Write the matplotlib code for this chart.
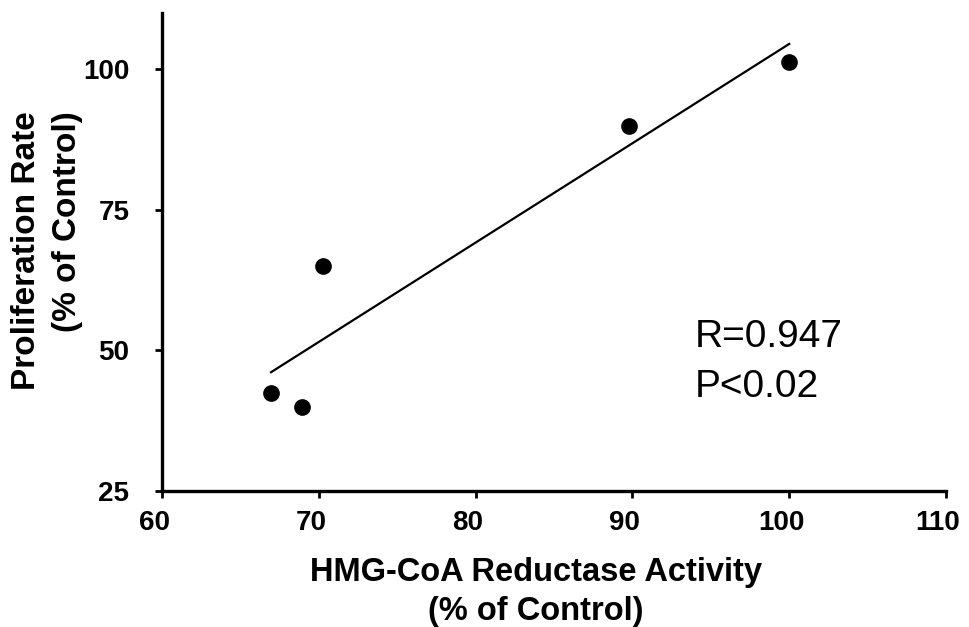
import numpy as np
import matplotlib.pyplot as plt
from matplotlib.transforms import ScaledTranslation

# values
hmg_activity = [66.95, 68.95, 70.25, 89.75, 100.0]
prolif_rate = [42.4, 39.9, 65.0, 89.9, 101.3]
x_ticks = [60, 70, 80, 90, 100, 110]
y_ticks = [25, 50, 75, 100]
stat_lines = ["R=0.947", "P<0.02"]

plt.rcParams['font.family'] = ['Liberation Sans', 'DejaVu Sans']

fig = plt.figure(figsize=(9.69, 6.27), dpi=100)
ax = fig.add_axes([0.1672, 0.2169, 0.8091, 0.7628])

ax.plot(hmg_activity, prolif_rate, 'o', color='black', markersize=11)

# least squares line over the data range
slope, icpt = np.polyfit(hmg_activity, prolif_rate, 1)
xs = np.array([min(hmg_activity), max(hmg_activity)])
ax.plot(xs, slope*xs + icpt, color='black', lw=1.6)

ax.set_xlim(60, 110)
ax.set_ylim(25, 110)
ax.set_xticks(x_ticks)
ax.set_yticks(y_ticks)
for s in ['top', 'right']:
	ax.spines[s].set_visible(False)
for s in ['left', 'bottom']:
	ax.spines[s].set_linewidth(2.4)
ax.tick_params(length=5, width=2, labelsize=20)
ax.tick_params(axis='x', pad=9)
ax.tick_params(axis='y', pad=18.5)
# x tick labels sit a bit left of their ticks in the original
shift = ScaledTranslation(-8/100, 0, fig.dpi_scale_trans)
for lab in ax.get_xticklabels():
	lab.set_fontweight('bold')
	lab.set_transform(lab.get_transform() + shift)
for lab in ax.get_yticklabels():
	lab.set_fontweight('bold')

ax.text(94.0, 50.6, stat_lines[0], fontsize=28, va='baseline', ha='left')
ax.text(94.0, 41.7, stat_lines[1], fontsize=28, va='baseline', ha='left')

fig.text(536/969, 1-592/627, "HMG-CoA Reductase Activity\n(% of Control)",
	ha='center', va='center', fontsize=23.5, fontweight='bold', linespacing=1.3)
fig.text(47/969, 1-251/627, "Proliferation Rate\n(% of Control)",
	ha='center', va='center', rotation=90, multialignment='right',
	fontsize=24, fontweight='bold', linespacing=1.4)

plt.savefig("out.png", dpi=100)
